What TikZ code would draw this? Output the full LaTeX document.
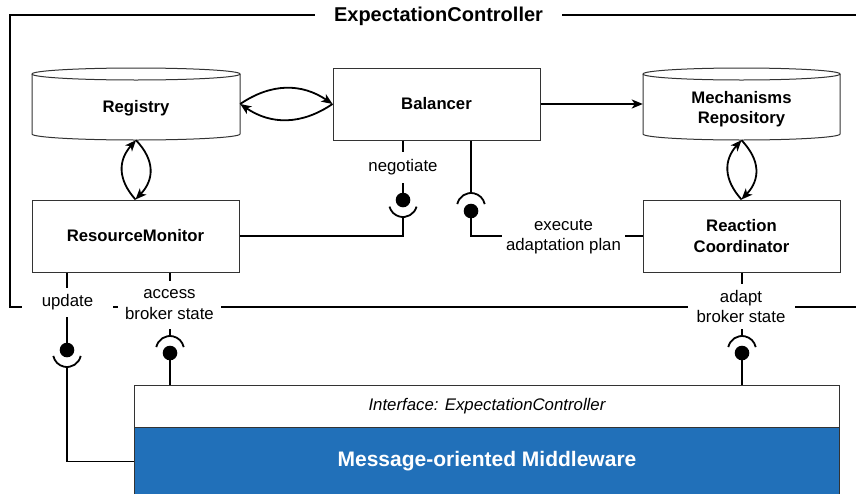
\documentclass[tikz,border=0pt]{standalone}
\usepackage{fontspec}
\setmainfont{Liberation Sans}
\usetikzlibrary{arrows.meta}
\definecolor{mowblue}{RGB}{33,112,185}
\begin{document}
\begin{tikzpicture}[x=1pt,y=-1pt,
  conn/.style={line width=1.8pt, black},
  arr/.style={conn, -{Stealth[length=11pt,width=9pt,inset=3pt]}},
  boxline/.style={draw=black!80, line width=1pt},
  comp/.style={boxline, fill=white, minimum width=207pt, minimum height=72pt, inner sep=0pt},
  cylbox/.style={minimum width=208pt, minimum height=72pt, inner sep=0pt},
  bold/.style={font=\fontsize{16.7}{20.5}\selectfont\bfseries, align=center},
  lbl/.style={font=\fontsize{16.8}{20.5}\selectfont, align=center, fill=white, inner sep=0pt},
]
\clip (0,0) rectangle (856,493);
\fill[white] (0,0) rectangle (856,493);

% frame
\draw[line width=2pt] (860,15) -- (10,15) -- (10,307) -- (860,307);
\node[font=\fontsize{20}{24}\selectfont\bfseries, fill=white, minimum width=247pt, minimum height=20pt, inner sep=0pt] (title) at (438.5,16) {ExpectationController};

% Registry cylinder
\draw[boxline, fill=white] (32,74) -- (32,134) arc[start angle=180,end angle=0,x radius=104,y radius=6] -- (240,74) arc[start angle=0,end angle=-180,x radius=104,y radius=6] -- cycle;
\draw[boxline] (32,74) arc[start angle=180,end angle=0,x radius=104,y radius=6];
\node[cylbox] (reg) at (136,104) {};
\node[bold] (regt) at (136,108) {Registry};

% Mechanisms Repository cylinder
\draw[boxline, fill=white] (643,74) -- (643,134) arc[start angle=180,end angle=0,x radius=98.5,y radius=6] -- (840,74) arc[start angle=0,end angle=-180,x radius=98.5,y radius=6] -- cycle;
\draw[boxline] (643,74) arc[start angle=180,end angle=0,x radius=98.5,y radius=6];
\node[cylbox, minimum width=197pt] (mech) at (741.5,104) {};
\node[bold] (mecht) at (741.5,109) {Mechanisms\\Repository};

% components
\node[comp, bold] (bal) at (436.5,104) {Balancer};
\node[comp, bold] (rm) at (135.5,236) {ResourceMonitor};
\node[comp, bold, minimum width=197pt] (rc) at (741.5,236) {Reaction\\Coordinator};

% middleware
\node[boxline, fill=white, minimum width=705pt, minimum height=42pt, anchor=north west, inner sep=0pt,
      font=\fontsize{16.8}{20}\selectfont\itshape] (iface) at (134,385) {Interface: ExpectationController};
\node[boxline, fill=mowblue, text=white, minimum width=705pt, minimum height=68pt, anchor=north west, inner sep=0pt,
      font=\fontsize{21}{25}\selectfont\bfseries] (mom) at (134,427) {Message-oriented Middleware};

% curved double connectors
\draw[arr] (reg.east) .. controls +(31,-21) and +(-31,-21) .. (bal.west);
\draw[arr] (bal.west) .. controls +(-31,21) and +(31,21) .. (reg.east);
\draw[arr] (reg.south) .. controls +(19,20) and +(19,-20) .. (rm.north);
\draw[arr] (rm.north) .. controls +(-18,-20) and +(-18,20) .. (reg.south);
\draw[arr] (mech.south) .. controls +(19,20) and +(19,-20) .. (rc.north);
\draw[arr] (rc.north) .. controls +(-18,-20) and +(-18,20) .. (mech.south);
\draw[arr] (bal.east) -- (mech.west);

% negotiate (ball from Balancer, socket from ResourceMonitor)
\coordinate (negball) at (403,200);
\coordinate (negsock) at (403,217);
\draw[conn] (negball |- bal.south) -- (negball);
\fill (negball) circle[radius=7.3];
\draw[conn] (403,203) ++(15:14) arc[start angle=15,end angle=165,radius=14];
\draw[conn] (negsock) |- (rm.east);

% execute adaptation plan (socket from Balancer, ball from Reaction Coordinator)
\coordinate (exball) at (471,211);
\coordinate (exsock) at (471,193);
\draw[conn] (exsock |- bal.south) -- (exsock);
\draw[conn] (471,207) ++(192:14) arc[start angle=192,end angle=348,radius=14];
\fill (exball) circle[radius=7.3];
\draw[conn] (exball) |- (rc.west);

% update
\coordinate (upball) at (67,350);
\coordinate (upsock) at (67,367);
\draw[conn] (upball |- rm.south) -- (upball);
\fill (upball) circle[radius=7.3];
\draw[conn] (67,353) ++(12:14) arc[start angle=12,end angle=168,radius=14];
\draw[conn] (upsock) |- (mom.west);

% access broker state
\coordinate (acball) at (170,353);
\coordinate (acsock) at (170,336);
\draw[conn] (acsock |- rm.south) -- (acsock);
\draw[conn] (170,350) ++(192:14) arc[start angle=192,end angle=348,radius=14];
\fill (acball) circle[radius=7.3];
\draw[conn] (acball) -- (acball |- iface.north);

% adapt broker state
\coordinate (adball) at (742,353);
\coordinate (adsock) at (742,336);
\draw[conn] (adsock |- rc.south) -- (adsock);
\draw[conn] (742,350) ++(192:14) arc[start angle=192,end angle=348,radius=14];
\fill (adball) circle[radius=7.3];
\draw[conn] (adball) -- (adball |- iface.north);

% labels
\node[lbl, minimum width=80pt, minimum height=31pt] (neg) at (403,167.5) {negotiate};
\node[lbl, minimum width=123pt, minimum height=44pt] (exe) at (563.5,237) {execute\\adaptation plan};
\node[lbl, minimum width=91pt, minimum height=29pt] (upd) at (67.5,302.5) {update};
\node[lbl, minimum width=103pt, minimum height=48pt] (acc) at (169.5,304.5) {access\\broker state};
\node[lbl, minimum width=107pt, minimum height=45pt] (ada) at (741,306.5) {adapt\\broker state};
\end{tikzpicture}
\end{document}
